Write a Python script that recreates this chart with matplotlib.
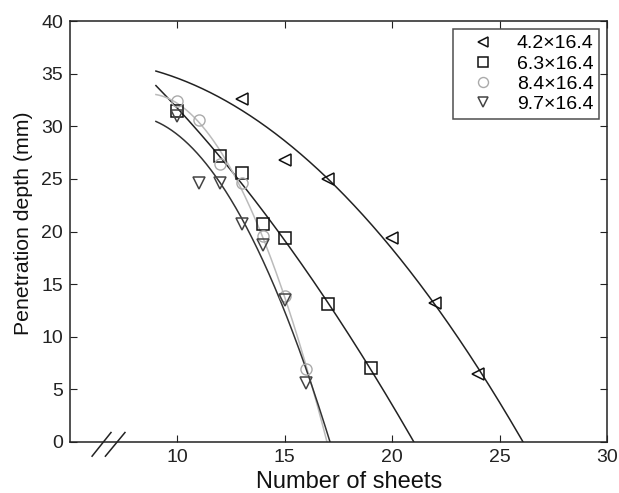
import numpy as np
import matplotlib.pyplot as plt

plt.rcParams['font.family'] = ['Liberation Sans', 'DejaVu Sans']

# data
x_a = [13, 15, 17, 20, 22, 24]
y_a = [32.6, 26.8, 25.0, 19.4, 13.2, 6.5]
x_b = [10, 12, 13, 14, 15, 17, 19]
y_b = [31.5, 27.2, 25.6, 20.7, 19.4, 13.1, 7.0]
x_c = [10, 11, 12, 13, 14, 15, 16]
y_c = [32.4, 30.6, 26.4, 24.6, 19.6, 13.9, 6.9]
x_d = [10, 11, 12, 13, 14, 15, 16]
y_d = [31.0, 24.6, 24.6, 20.7, 18.7, 13.5, 5.6]
labels = ['4.2\u00d716.4', '6.3\u00d716.4', '8.4\u00d716.4', '9.7\u00d716.4']

fig = plt.figure(figsize=(6.19, 4.93), dpi=100)
ax = fig.add_axes([0.113, 0.1035, 0.868, 0.8535])


def fit_curve(x, y, deg, x0=9):
    p = np.polyfit(x, y, deg)
    xs = np.linspace(x0, 30, 2000)
    ys = np.polyval(p, xs)
    keep = ys >= 0
    return xs[keep], ys[keep]


# fitted curves
for x, y, deg, col in [(x_a, y_a, 2, '#222222'), (x_b, y_b, 2, '#222222'),
                       (x_c, y_c, 2, '#bbbbbb'), (x_d, y_d, 2, '#333333')]:
    xs, ys = fit_curve(x, y, deg)
    ax.plot(xs, ys, color=col, lw=1.1, zorder=2)

ms = 8
ax.plot(x_a, y_a, '<', ls='none', mfc='none', mec='#111111', ms=ms, mew=1.1, label=labels[0], zorder=3)
ax.plot(x_b, y_b, 's', ls='none', mfc='none', mec='#111111', ms=ms, mew=1.1, label=labels[1], zorder=3)
ax.plot(x_c, y_c, 'o', ls='none', mfc='none', mec='#aaaaaa', ms=ms, mew=1.0, label=labels[2], zorder=3)
ax.plot(x_d, y_d, 'v', ls='none', mfc='none', mec='#444444', ms=ms, mew=1.1, label=labels[3], zorder=3)

ax.set_xlim(5, 30)
ax.set_ylim(0, 40)
ax.set_xticks([10, 15, 20, 25, 30])
ax.set_yticks(range(0, 41, 5))
ax.tick_params(direction='in', top=True, right=True, labelsize=14, length=5,
               colors='#222222', pad=5)
for s in ax.spines.values():
    s.set_color('#222222')
    s.set_linewidth(1.1)

ax.set_xlabel('Number of sheets', fontsize=17, color='#111111')
ax.set_ylabel('Penetration depth (mm)', fontsize=15.3, color='#111111')
ax.xaxis.set_label_coords(0.52, -0.068)
ax.yaxis.set_label_coords(-0.068, 0.52)

# axis break marks
for xa, xb in [(6.03, 6.91), (6.65, 7.56)]:
    ax.plot([xa, xb], [-1.35, 0.9], color='#222222', lw=1.1, clip_on=False)

leg = ax.legend(loc='upper right', fontsize=14, frameon=True, fancybox=False,
                edgecolor='#222222', handletextpad=0.5, borderaxespad=0.4,
                borderpad=0.3, labelspacing=0.13, handlelength=2.5, markerscale=0.9)
leg.get_frame().set_linewidth(1.1)

fig.savefig('out.png', dpi=100)
